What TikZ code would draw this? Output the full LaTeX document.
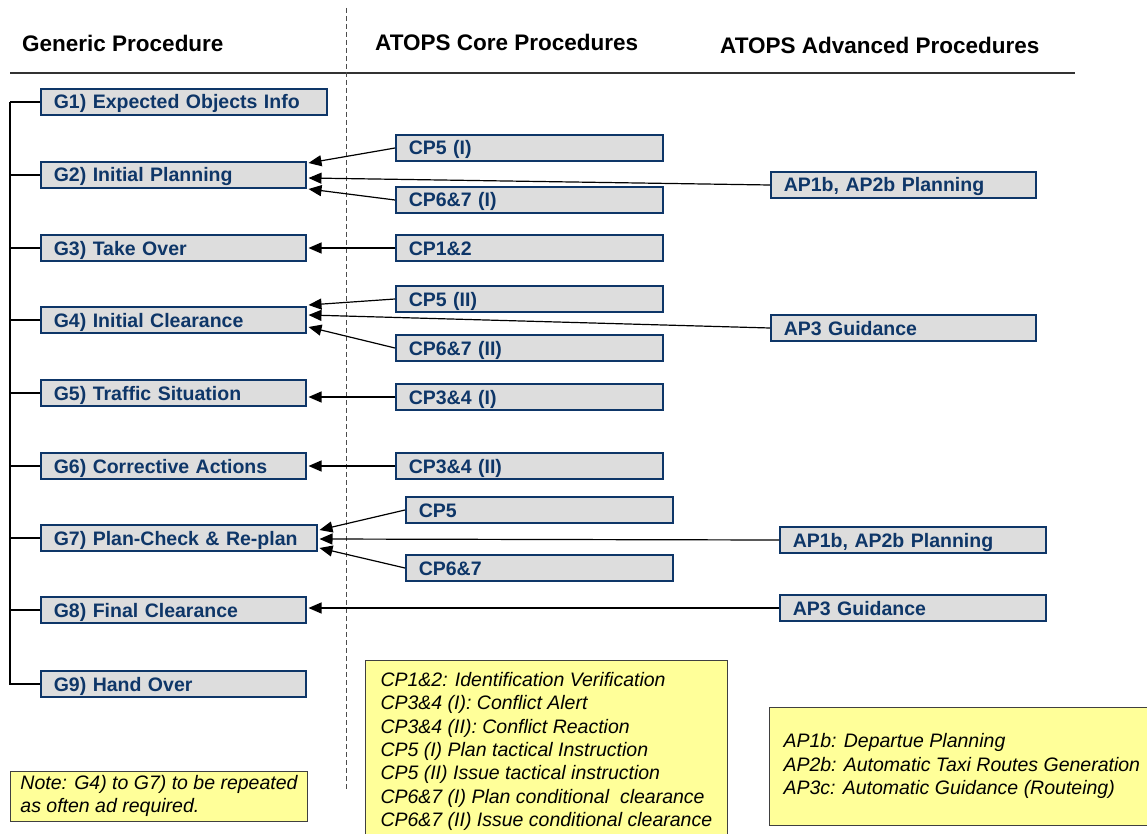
\documentclass[tikz,border=0pt]{standalone}
\usepackage{fontspec}
\setmainfont{Liberation Sans}
\usetikzlibrary{arrows.meta,positioning}
\definecolor{procblue}{RGB}{14,54,104}
\definecolor{procgray}{RGB}{221,221,221}
\definecolor{noteyellow}{RGB}{255,255,153}

\begin{document}
\begin{tikzpicture}[x=1pt, y=-1pt, >={Triangle[length=13pt,width=11pt]},
  proc/.style={draw=procblue, line width=1.5pt, fill=procgray, text=procblue, anchor=west,
    minimum height=26pt, inner xsep=13pt, inner ysep=0pt, text width=#1, align=left,
    text height=14pt, text depth=0pt, font=\fontsize{19.5}{22}\selectfont\bfseries},
  head/.style={anchor=west, inner sep=0pt, font=\fontsize{22.5}{26}\selectfont\bfseries},
  legend/.style={draw=black!75, line width=1pt, fill=noteyellow, align=left,
    font=\fontsize{19.5}{23.3}\selectfont\itshape},
  link/.style={->, line width=1.2pt},
  tree/.style={line width=1.4pt}]
  \useasboundingbox (0,0) rectangle (1147,834);

  % column headings
  \node [head] (hgen) at (22,43) {Generic Procedure};
  \node [head] (hcore) at (375,42) {ATOPS Core Procedures};
  \node [head] (hadv) at (720,45) {ATOPS Advanced Procedures};
  \draw [black!80, line width=1.5pt] (10,73) -- (1075,73);
  \draw [black!70, line width=1pt, dash pattern=on 5pt off 3pt] (346,8) -- (346,790);

  % generic procedure
  \node [proc=260pt] (g1) at (40,102) {G1) Expected Objects Info};
  \node [proc=239pt] (g2) at (40,175) {G2) Initial Planning};
  \node [proc=239pt] (g3) at (40,248) {G3) Take Over};
  \node [proc=239pt] (g4) at (40,320) {G4) Initial Clearance};
  \node [proc=239pt] (g5) at (40,393) {G5) Traffic Situation};
  \node [proc=239pt] (g6) at (40,466) {G6) Corrective Actions};
  \node [proc=250pt] (g7) at (40,538) {G7) Plan-Check \& Re-plan};
  \node [proc=239pt] (g8) at (40,610) {G8) Final Clearance};
  \node [proc=239pt] (g9) at (40,684) {G9) Hand Over};

  \draw [tree, line width=2pt] (g1.west) -- ++(-30,0) coordinate (trunk);
  \draw [tree] (trunk) |- (g9.west);
  \draw [tree] (g2.west) -- ++(-30,0);
  \draw [tree] (g3.west) -- ++(-30,0);
  \draw [tree] (g4.west) -- ++(-30,0);
  \draw [tree] (g5.west) -- ++(-30,0);
  \draw [tree] (g6.west) -- ++(-30,0);
  \draw [tree] (g7.west) -- ++(-30,0);
  \draw [tree] (g8.west) -- ++(-30,0);

  % core procedures
  \node [proc=241pt] (cp5a) at (395,148) {CP5 (I)};
  \node [proc=241pt] (cp67a) at (395,200) {CP6\&7 (I)};
  \node [proc=241pt] (cp12) at (395,248) {CP1\&2};
  \node [proc=241pt] (cp5b) at (395,299) {CP5 (II)};
  \node [proc=241pt] (cp67b) at (395,348) {CP6\&7 (II)};
  \node [proc=241pt] (cp34a) at (395,397) {CP3\&4 (I)};
  \node [proc=241pt] (cp34b) at (395,466) {CP3\&4 (II)};
  \node [proc=241pt] (cp5c) at (405,510) {CP5};
  \node [proc=241pt] (cp67c) at (405,568) {CP6\&7};

  % advanced procedures
  \node [proc=239pt] (ap12a) at (770,185) {AP1b, AP2b Planning};
  \node [proc=239pt] (ap3a) at (770,328) {AP3 Guidance};
  \node [proc=240pt] (ap12b) at (779,540) {AP1b, AP2b Planning};
  \node [proc=240pt] (ap3b) at (779,608) {AP3 Guidance};

  \draw [link] (cp5a.west) -- ([shift={(2,-12)}]g2.east);
  \draw [link] (ap12a.west) -- ([shift={(2,3)}]g2.east);
  \draw [link] (cp67a.west) -- ([shift={(2,14)}]g2.east);
  \draw [link] (cp12.west) -- ([xshift=2pt]g3.east);
  \draw [link] (cp5b.west) -- ([shift={(2,-15)}]g4.east);
  \draw [link] (ap3a.west) -- ([shift={(2,-5)}]g4.east);
  \draw [link] (cp67b.west) -- ([shift={(2,7)}]g4.east);
  \draw [link] (cp34a.west) -- ([shift={(2,4)}]g5.east);
  \draw [link] (cp34b.west) -- ([xshift=2pt]g6.east);
  \draw [link] (cp5c.west) -- ([shift={(2,-8)}]g7.east);
  \draw [link] (ap12b.west) -- ([shift={(2,1)}]g7.east);
  \draw [link] (cp67c.west) -- ([shift={(2,10)}]g7.east);
  \draw [link] (ap3b.west) -- ([shift={(2,-2)}]g8.east);

  % legends
  \node [legend, anchor=west, inner xsep=9pt, minimum width=297pt, minimum height=50pt] (note) at (10,796)
    {Note: G4) to G7) to be repeated\\as often ad required.};
  \node [legend, anchor=north west, inner xsep=15pt, inner ysep=12pt] (cplegend) at (365,660)
    {CP1\&2: Identification Verification\\
     CP3\&4 (I): Conflict Alert\\
     CP3\&4 (II): Conflict Reaction\\
     CP5 (I) Plan tactical Instruction\\
     CP5 (II) Issue tactical instruction\\
     CP6\&7 (I) Plan conditional\ \ clearance\\
     CP6\&7 (II) Issue conditional clearance};
  \node [legend, anchor=west, inner xsep=14pt, minimum height=118pt] (aplegend) at (769,766)
    {AP1b: Departue Planning\\
     AP2b: Automatic Taxi Routes Generation\\
     AP3c: Automatic Guidance (Routeing)};
\end{tikzpicture}
\end{document}
